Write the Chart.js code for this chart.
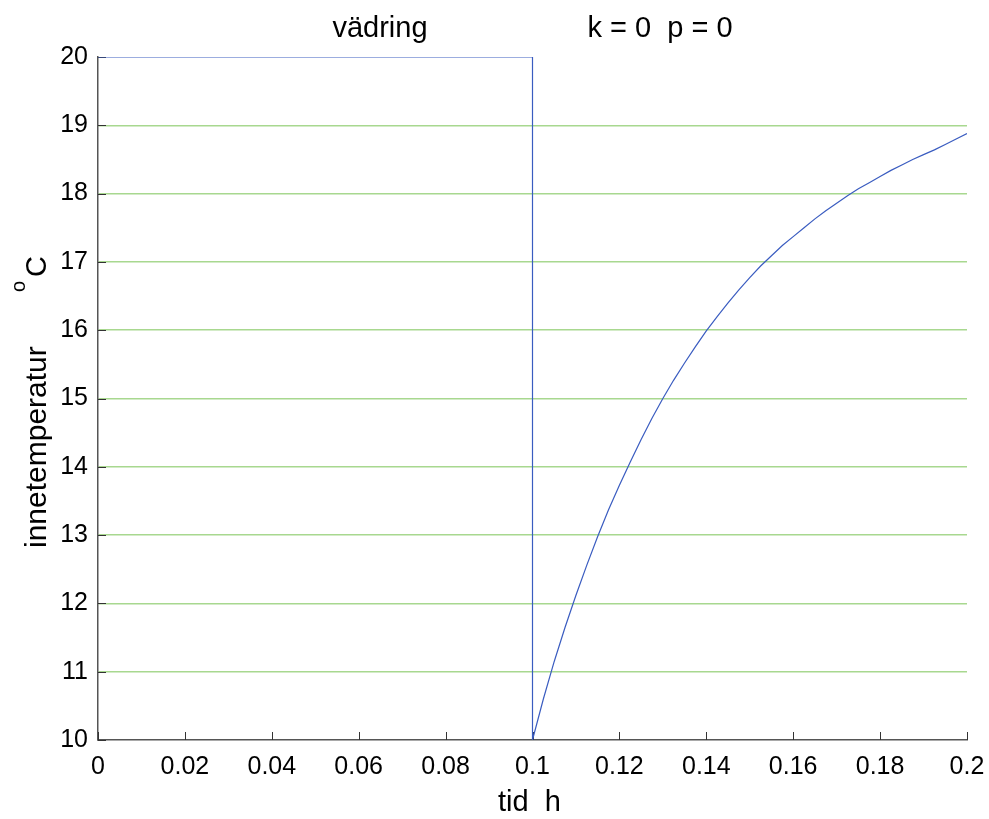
<!DOCTYPE html>
<html>
<head>
<meta charset="utf-8">
<script src="https://cdn.jsdelivr.net/npm/chart.js@4/dist/chart.umd.min.js"></script>
<style>
  html, body { margin: 0; padding: 0; background: #fff; }
  #wrap { width: 989px; height: 819px; }
</style>
</head>
<body>
<div id="wrap"><canvas id="chart" width="989" height="819"></canvas></div>
<script>
const titleLeft = "vädring";
const titleRight = "k = 0  p = 0";
const xLabel = "tid  h";
const yLabel = "innetemperatur";
const yUnit = "C";
const yUnitSup = "o";

// time (h) and indoor temperature
const timeH = [
  0, 0.1, 0.1, 0.1025, 0.105, 0.1075, 0.11, 0.1125, 0.115, 0.1175, 0.12,
  0.1225, 0.125, 0.1275, 0.13, 0.1325, 0.135, 0.1375, 0.14, 0.1425, 0.145,
  0.1475, 0.15, 0.1525, 0.155, 0.1575, 0.16, 0.1625, 0.165, 0.1675, 0.17,
  0.1725, 0.175, 0.1775, 0.18, 0.1825, 0.185, 0.1875, 0.19, 0.1925, 0.195,
  0.1975, 0.2,
];
const innetemp = [
  20, 20, 10, 10.6, 11.15, 11.65, 12.12, 12.56, 12.98, 13.37, 13.73,
  14.07, 14.4, 14.71, 15.0, 15.27, 15.52, 15.76, 15.99, 16.2, 16.4,
  16.59, 16.77, 16.94, 17.09, 17.24, 17.37, 17.5, 17.63, 17.75, 17.86,
  17.97, 18.07, 18.16, 18.25, 18.34, 18.42, 18.5, 18.57, 18.64, 18.72,
  18.8, 18.88,
];

const xTicks = [0, 0.02, 0.04, 0.06, 0.08, 0.1, 0.12, 0.14, 0.16, 0.18, 0.2];
const xTickLabels = ["0", "0.02", "0.04", "0.06", "0.08", "0.1", "0.12", "0.14", "0.16", "0.18", "0.2"];
const yTicks = [10, 11, 12, 13, 14, 15, 16, 17, 18, 19, 20];
const yTickLabels = ["10", "11", "12", "13", "14", "15", "16", "17", "18", "19", "20"];

const font = "'Liberation Sans', Arial, sans-serif";
const ctx = document.getElementById("chart");

const points = [];
for (let i = 0; i < timeH.length; i++) {
  points.push({ x: timeH[i], y: innetemp[i] });
}

// inward tick marks, like the original axes
const tickMarks = {
  id: "tickMarks",
  beforeDatasetsDraw(chart) {
    const c = chart.ctx;
    const xs = chart.scales.x;
    const ys = chart.scales.y;
    const area = chart.chartArea;
    c.save();
    c.strokeStyle = "#333";
    c.lineWidth = 1;
    xs.ticks.forEach((t) => {
      const px = Math.round(xs.getPixelForValue(t.value)) + 0.5;
      c.beginPath();
      c.moveTo(px, area.bottom);
      c.lineTo(px, area.bottom - 8);
      c.stroke();
    });
    ys.ticks.forEach((t) => {
      const py = Math.round(ys.getPixelForValue(t.value)) + 0.5;
      c.beginPath();
      c.moveTo(area.left, py);
      c.lineTo(area.left + 8, py);
      c.stroke();
    });
    c.restore();
  },
};

// titles and axis labels
const labels = {
  id: "labels",
  afterDraw(chart) {
    const c = chart.ctx;
    const area = chart.chartArea;
    c.save();
    c.fillStyle = "#000";
    c.textBaseline = "alphabetic";
    c.textAlign = "center";
    c.font = "29px " + font;
    c.fillText(titleLeft, 380, 37);
    c.fillText(titleRight, 660, 37);
    c.fillText(xLabel, (area.left + area.right) / 2 - 3, 811);

    c.translate(46, 548);
    c.rotate(-Math.PI / 2);
    c.textAlign = "left";
    c.font = "30px " + font;
    c.fillText(yLabel, 0, 0);
    c.font = "20px " + font;
    c.fillText(yUnitSup, 256, -21);
    c.font = "29px " + font;
    c.fillText(yUnit, 271, 0);
    c.restore();
  },
};

new Chart(ctx, {
  type: "scatter",
  data: {
    datasets: [
      {
        data: points,
        showLine: true,
        borderColor: "#3a5cc0",
        borderWidth: 1.2,
        pointRadius: 0,
        tension: 0,
      },
    ],
  },
  options: {
    responsive: false,
    animation: false,
    layout: { padding: { top: 57, right: 22, left: 0, bottom: 0 } },
    plugins: {
      legend: { display: false },
      tooltip: { enabled: false },
    },
    scales: {
      x: {
        type: "linear",
        min: 0,
        max: 0.2,
        afterFit(scale) {
          scale.height = 79;
          scale.paddingLeft = 0;
          scale.paddingRight = 0;
        },
        afterBuildTicks(scale) {
          scale.ticks = xTicks.map((v) => ({ value: v }));
        },
        ticks: {
          padding: 12,
          color: "#000",
          font: { family: font, size: 25 },
          maxRotation: 0,
          autoSkip: false,
          callback: (v, i) => xTickLabels[i],
        },
        grid: { display: false, drawTicks: false },
        border: { display: true, color: "#555", width: 1.5 },
      },
      y: {
        type: "linear",
        min: 10,
        max: 20,
        afterFit(scale) {
          scale.width = 98;
        },
        afterBuildTicks(scale) {
          scale.ticks = yTicks.map((v) => ({ value: v }));
        },
        ticks: {
          padding: 10,
          color: "#000",
          font: { family: font, size: 25 },
          autoSkip: false,
          callback: (v, i) => yTickLabels[i],
        },
        grid: {
          drawTicks: false,
          lineWidth: 1.5,
          color: (c) => (c.tick && c.tick.value > 10 && c.tick.value < 20 ? "#a8d88f" : "rgba(0,0,0,0)"),
        },
        border: { display: true, color: "#555", width: 1.5 },
      },
    },
  },
  plugins: [tickMarks, labels],
});
</script>
</body>
</html>
